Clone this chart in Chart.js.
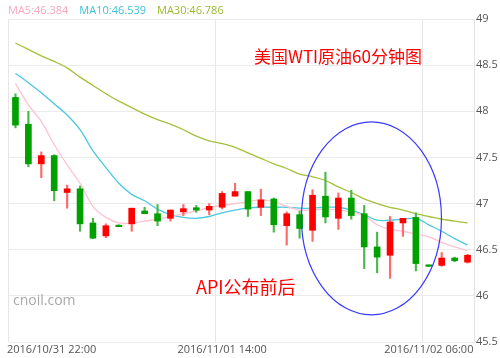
<!DOCTYPE html>
<html><head><meta charset="utf-8">
<script src="https://cdn.jsdelivr.net/npm/chart.js@4.4.1/dist/chart.umd.min.js"></script>
<style>html,body{margin:0;padding:0;background:#fff;}canvas{display:block;}</style>
</head><body>
<canvas id="c" width="500" height="358"></canvas>
<script>
// ---- data ----
const categories = [
  '2016/10/31 22:00','2016/10/31 23:00',
  '2016/11/01 00:00','2016/11/01 01:00','2016/11/01 02:00','2016/11/01 03:00','2016/11/01 04:00','2016/11/01 05:00',
  '2016/11/01 06:00','2016/11/01 07:00','2016/11/01 08:00','2016/11/01 09:00','2016/11/01 10:00','2016/11/01 11:00',
  '2016/11/01 12:00','2016/11/01 13:00','2016/11/01 14:00','2016/11/01 15:00','2016/11/01 16:00','2016/11/01 17:00',
  '2016/11/01 18:00','2016/11/01 19:00','2016/11/01 20:00','2016/11/01 21:00','2016/11/01 22:00','2016/11/01 23:00',
  '2016/11/02 00:00','2016/11/02 01:00','2016/11/02 02:00','2016/11/02 03:00','2016/11/02 04:00','2016/11/02 05:00',
  '2016/11/02 06:00','2016/11/02 07:00','2016/11/02 08:00','2016/11/02 09:00'
];
const openVals  = [48.15,47.86,47.43,47.52,47.12,47.16,46.79,46.65,46.765,46.78,46.92,46.89,46.84,46.91,46.955,46.93,46.96,47.08,47.13,46.96,47.05,46.76,46.88,46.71,47.08,46.84,47.06,46.89,46.53,46.44,46.79,46.85,46.335,46.33,46.41,46.365];
const highVals  = [48.19,48.00,47.56,47.53,47.20,47.19,46.84,46.78,46.77,46.95,46.96,46.99,46.93,46.99,46.98,47.00,47.13,47.22,47.13,47.155,47.06,46.91,46.92,47.15,47.34,47.115,47.145,46.98,46.69,46.86,46.84,46.90,46.335,46.47,46.42,46.45];
const lowVals   = [47.82,47.40,47.28,47.03,46.95,46.70,46.62,46.63,46.75,46.70,46.89,46.76,46.81,46.87,46.905,46.88,46.94,47.08,46.86,46.87,46.69,46.55,46.625,46.59,46.79,46.72,46.83,46.295,46.25,46.19,46.645,46.27,46.32,46.32,46.37,46.355];
const closeVals = [47.85,47.43,47.52,47.14,47.16,46.78,46.625,46.76,46.75,46.95,46.89,46.81,46.93,46.945,46.93,46.97,47.11,47.13,46.94,47.04,46.77,46.89,46.73,47.09,46.855,47.06,46.87,46.53,46.42,46.80,46.84,46.35,46.32,46.41,46.38,46.44];
const ma5Vals  = [48.30,48.07,47.89,47.64,47.42,47.22,46.97,46.85,46.79,46.79,46.81,46.83,46.86,46.89,46.92,46.96,46.98,47.00,47.02,47.04,47.02,46.97,46.93,46.93,46.94,46.93,46.91,46.87,46.77,46.72,46.70,46.67,46.64,46.58,46.53,46.49];
const ma10Vals = [48.41,48.31,48.20,48.08,47.96,47.80,47.57,47.39,47.22,47.10,47.03,46.94,46.88,46.85,46.84,46.86,46.90,46.93,46.95,46.96,46.96,46.96,46.95,46.95,46.96,46.96,46.93,46.88,46.82,46.82,46.83,46.84,46.77,46.70,46.62,46.55];
const ma30Vals = [48.74,48.67,48.60,48.54,48.47,48.37,48.28,48.19,48.11,48.04,47.97,47.91,47.86,47.80,47.73,47.68,47.65,47.61,47.55,47.49,47.43,47.38,47.32,47.29,47.25,47.18,47.12,47.05,47.00,46.96,46.93,46.89,46.86,46.83,46.81,46.79];
const maNames  = ['MA5', 'MA10', 'MA30'];
const maLatest = ['46.384', '46.539', '46.786'];
const xTickLabels = ['2016/10/31 22:00', '2016/11/01 14:00', '2016/11/02 06:00'];
const yMin = 45.5, yMax = 49, yStep = 0.5;
const titleText = '美国WTI原油60分钟图';
const noteText = 'API公布前后';
const sourceText = 'cnoil.com';
// ellipse annotation in data units: [category index, price], radii
const ellipseCenter = [27.56, 46.84];
const ellipseRadius = [5.42, 1.045];

// ---- styles ----
const UP = '#ff0000', DOWN = '#00a000';
const UP_WICK = '#ff6a6a', DOWN_WICK = '#4cb84c';
const maColors = ['#ffc2d0', '#4cc8e0', '#a3c13a'];
const maTextColors = ['#f7a8bc', '#3fc2da', '#9aba2e'];
const FONT = '"Open Sans", "Noto Sans", sans-serif';
const CJK = '"Noto Sans CJK SC", "Noto Sans", sans-serif';

const isUp = i => closeVals[i] >= openVals[i];
const xTickIndex = xTickLabels.map(l => categories.indexOf(l));

const bodies = categories.map((_, i) => [openVals[i], closeVals[i]]);
const wicks  = categories.map((_, i) => [lowVals[i], highVals[i]]);

const overlay = {
  id: 'overlay',
  afterDatasetsDraw(chart) {
    const {ctx, scales: {x, y}} = chart;
    const cx = x.getPixelForValue(ellipseCenter[0]);
    const cy = y.getPixelForValue(ellipseCenter[1]);
    const rx = x.getPixelForValue(ellipseCenter[0] + ellipseRadius[0]) - cx;
    const ry = cy - y.getPixelForValue(ellipseCenter[1] + ellipseRadius[1]);
    ctx.save();
    ctx.beginPath();
    ctx.ellipse(cx, cy, rx, ry, 0, 0, Math.PI * 2);
    ctx.strokeStyle = '#3a3aff';
    ctx.lineWidth = 1.2;
    ctx.stroke();
    ctx.restore();
  },
  afterDraw(chart) {
    const {ctx, scales: {x}} = chart;
    ctx.save();
    ctx.textBaseline = 'middle';
    // legend
    ctx.font = '11px ' + FONT;
    let lx = 8;
    maNames.forEach((n, i) => {
      const t = n + ':' + maLatest[i];
      ctx.fillStyle = maTextColors[i];
      ctx.textAlign = 'left';
      ctx.fillText(t, lx, 11);
      lx += ctx.measureText(t).width + 11;
    });
    // x tick labels
    ctx.fillStyle = '#555';
    ctx.font = '11px ' + FONT;
    ctx.textAlign = 'left';
    xTickLabels.forEach((t, k) => {
      const w = ctx.measureText(t).width;
      let px = x.getPixelForValue(xTickIndex[k]) - w / 2;
      px = Math.max(7, Math.min(px, 474 - w));
      ctx.fillText(t, px, 350);
    });
    // texts
    ctx.fillStyle = '#ff0000';
    ctx.font = '17px ' + CJK;
    ctx.fillText(titleText, 254, 57);
    ctx.font = '18px ' + CJK;
    ctx.fillText(noteText, 196, 287);
    ctx.fillStyle = '#a8a8a8';
    ctx.font = '14px ' + FONT;
    ctx.fillText(sourceText, 13, 301);
    ctx.restore();
  }
};

new Chart(document.getElementById('c'), {
  data: {
    labels: categories,
    datasets: [
      { type: 'bar', data: bodies, order: 0, grouped: false, barThickness: 6,
        minBarLength: 1.5,
        backgroundColor: categories.map((_, i) => isUp(i) ? UP : DOWN), borderWidth: 0 },
      { type: 'bar', data: wicks, order: 1, grouped: false, barThickness: 1.5,
        backgroundColor: categories.map((_, i) => isUp(i) ? UP_WICK : DOWN_WICK), borderWidth: 0 },
      { type: 'line', data: ma5Vals, order: 2, borderColor: maColors[0], borderWidth: 1.3, pointRadius: 0, tension: 0.35, fill: false },
      { type: 'line', data: ma10Vals, order: 3, borderColor: maColors[1], borderWidth: 1.3, pointRadius: 0, tension: 0.35, fill: false },
      { type: 'line', data: ma30Vals, order: 4, borderColor: maColors[2], borderWidth: 1.3, pointRadius: 0, tension: 0.35, fill: false }
    ]
  },
  options: {
    responsive: false,
    animation: false,
    devicePixelRatio: 1,
    layout: { padding: { left: 9, top: 19, right: 0, bottom: 16 } },
    plugins: { legend: { display: false }, tooltip: { enabled: false } },
    scales: {
      x: {
        offset: true,
        ticks: { display: false },
        border: { display: false },
        grid: {
          offset: true, drawTicks: false, lineWidth: 1,
          color: c => xTickIndex.includes(c.index) ? '#e6e6e6' : 'rgba(0,0,0,0)'
        }
      },
      y: {
        position: 'right',
        min: yMin, max: yMax,
        afterFit: s => { s.width = 26; },
        ticks: { stepSize: yStep, padding: 2, color: '#555', font: { family: FONT, size: 11 },
                 callback: v => String(+v) },
        grid: { color: '#ebebeb', drawTicks: false },
        border: { color: '#e3e3e3' }
      }
    }
  },
  plugins: [overlay]
});
</script>
</body></html>
